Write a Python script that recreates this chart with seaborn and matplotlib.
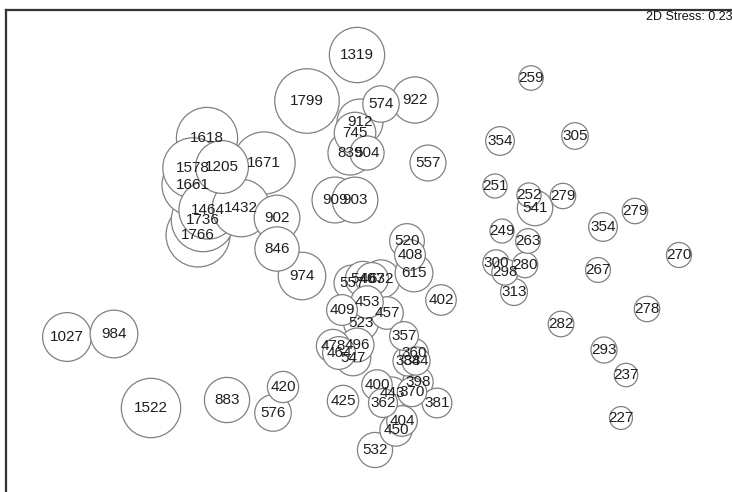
import matplotlib
matplotlib.use("Agg")
import matplotlib.pyplot as plt
import seaborn as sns
import pandas as pd

# MDS ordination (axis units of the plot, y increases downward)
labels = ["1319", "1799", "574", "922", "912", "745", "839", "504", "557", "909", "903",
          "1618", "1578", "1205", "1661", "1671", "1464", "1736", "1766", "1432", "902", "846", "974",
          "1027", "984", "1522", "883", "420", "576",
          "520", "408", "615", "402", "557", "540", "467", "632", "453", "457", "409", "523", "357",
          "478", "496", "464", "547", "360", "388", "344",
          "400", "443", "398", "370", "362", "381", "425", "404", "450", "532",
          "259", "354", "305", "251", "252", "541", "279", "279", "354", "249",
          "263", "300", "298", "280", "313", "267", "270", "278", "282", "293", "237", "227"]
mds1 = [357, 307, 381, 415, 360, 355, 350, 367, 428, 335, 355,
        207, 193, 222, 193, 264, 208, 203, 198, 241, 277, 277, 302,
        67, 114, 151, 227, 283, 273,
        407, 410, 414, 441, 352, 363, 372, 381, 367, 387, 342, 361, 404,
        333, 357, 339, 353, 414, 408, 416,
        377, 392, 418, 412, 383, 437, 343, 402, 396, 375,
        531, 500, 575, 495, 529, 535, 563, 635, 603, 502,
        528, 496, 505, 525, 514, 598, 679, 647, 561, 604, 626, 621]
mds2 = [55, 101, 104, 100, 122, 133, 153, 153, 163, 200, 200,
        138, 168, 167, 185, 163, 210, 220, 235, 208, 218, 249, 276,
        337, 334, 408, 400, 387, 413,
        241, 255, 273, 300, 283, 279, 279, 279, 302, 313, 310, 323, 336,
        346, 345, 353, 358, 353, 361, 361,
        385, 393, 382, 392, 403, 403, 401, 421, 430, 450,
        78, 141, 136, 186, 195, 208, 196, 211, 227, 231,
        241, 263, 272, 265, 292, 270, 255, 309, 324, 350, 375, 418]
values = [int(v) for v in labels]

df = pd.DataFrame({"label": labels, "mds1": mds1, "mds2": mds2, "value": values})
df = df.sort_values("value", ascending=False, kind="stable").reset_index(drop=True)

sns.set_theme(style="white")
plt.rcParams["font.family"] = ["Liberation Sans", "DejaVu Sans"]

W, H = 732, 492
fig = plt.figure(figsize=(W / 100, H / 100), dpi=100)
x0, x1 = 6, 746
y0, y1 = 9.5, 502
ax = fig.add_axes([x0 / W, 1 - y1 / H, (x1 - x0) / W, (y1 - y0) / H])

k = 1.2
vmin, vmax = df["value"].min(), df["value"].max()
sns.scatterplot(data=df, x="mds1", y="mds2", size="value",
                sizes=(k * vmin, k * vmax), size_norm=(vmin, vmax),
                facecolor="white", edgecolor="#808080", linewidth=0.9,
                legend=False, ax=ax, zorder=2)

for _, r in df.iterrows():
    ax.text(r["mds1"], r["mds2"], r["label"], ha="center", va="center",
            fontsize=11, color="#1f1f1f", zorder=5)

ax.set_xlim(x0, x1)
ax.set_ylim(y1, y0)
ax.set_xticks([])
ax.set_yticks([])
ax.set_xlabel("")
ax.set_ylabel("")
for side in ["right", "bottom"]:
    ax.spines[side].set_visible(False)
for side in ["left", "top"]:
    ax.spines[side].set_color("#333333")
    ax.spines[side].set_linewidth(1.6)

fig.text(1.0, 1 - 17 / H, "2D Stress: 0.23", ha="right", va="center",
         fontsize=9, color="#111111")

fig.savefig("out.png", dpi=100)
